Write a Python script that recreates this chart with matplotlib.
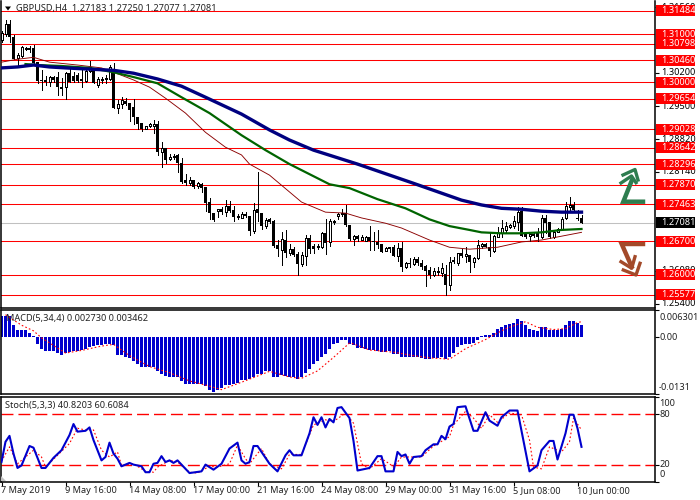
import numpy as np
import matplotlib
matplotlib.use("Agg")
import matplotlib.pyplot as plt
from matplotlib.lines import Line2D
from matplotlib.patches import Rectangle, Polygon
from matplotlib.transforms import blended_transform_factory

plt.rcParams["font.family"] = ["Noto Sans", "DejaVu Sans"]

# candles, in 1/10000 of a price unit
opens = [
    13088,13100,13121,13094,13050,13055,13069,13071,13071,13042,
    13005,13005,13000,13011,13011,12990,12990,13019,13013,13015,
    13007,13003,13023,13025,12994,13005,13007,13007,13021,12946,
    12955,12961,12957,12948,12928,12915,12903,12909,12909,12913,
    12855,12863,12840,12844,12849,12832,12797,12790,12797,12784,
    12788,12782,12751,12728,12732,12736,12730,12742,12734,12720,
    12718,12726,12722,12691,12736,12728,12701,12715,12711,12661,
    12651,12672,12645,12653,12643,12622,12639,12676,12659,12657,
    12657,12686,12668,12709,12722,12726,12728,12703,12674,12680,
    12672,12670,12678,12670,12668,12663,12649,12657,12657,12639,
    12655,12616,12624,12622,12632,12624,12618,12609,12599,12605,
    12603,12601,12578,12630,12624,12645,12639,12641,12626,12634,
    12659,12663,12657,12649,12678,12686,12693,12699,12701,12709,
    12732,12686,12680,12684,12686,12678,12718,12709,12678,12688,
    12695,12718,12740,12745,12718,12718,
]
highs = [
    13107,13129,13129,13098,13061,13075,13073,13075,13077,13042,
    13025,13013,13013,13013,13021,13009,13021,13030,13021,13019,
    13025,13025,13044,13030,13011,13011,13015,13036,13040,12963,
    12969,12967,12957,12965,12928,12915,12909,12915,12921,12919,
    12876,12863,12851,12851,12851,12842,12809,12803,12797,12792,
    12790,12782,12759,12728,12736,12740,12755,12753,12742,12726,
    12730,12730,12722,12749,12813,12728,12718,12718,12713,12672,
    12688,12693,12663,12657,12647,12647,12682,12682,12663,12663,
    12688,12715,12715,12713,12728,12736,12745,12703,12682,12682,
    12682,12680,12701,12688,12693,12663,12657,12657,12661,12666,
    12668,12626,12634,12636,12636,12630,12620,12616,12614,12616,
    12624,12620,12636,12636,12645,12653,12657,12641,12636,12672,
    12666,12666,12686,12682,12699,12713,12709,12705,12722,12740,
    12740,12688,12686,12686,12697,12724,12724,12709,12693,12697,
    12720,12751,12761,12751,12734,12725,
]
lows = [
    13084,13096,13084,13048,13036,13052,13067,13063,13038,12998,
    12984,12994,12992,13000,12973,12973,12965,13000,13000,13000,
    12990,13000,13021,12998,12990,12998,12998,13005,12946,12936,
    12946,12953,12919,12913,12903,12899,12903,12907,12894,12849,
    12824,12832,12838,12840,12813,12790,12786,12786,12780,12780,
    12772,12732,12715,12711,12720,12726,12722,12730,12711,12715,
    12718,12720,12682,12686,12711,12695,12697,12707,12657,12639,
    12620,12636,12641,12639,12599,12618,12620,12645,12645,12653,
    12655,12643,12659,12705,12715,12722,12701,12672,12661,12670,
    12672,12670,12651,12651,12655,12647,12649,12647,12639,12628,
    12607,12614,12616,12620,12620,12611,12576,12593,12597,12599,
    12597,12557,12568,12624,12620,12636,12626,12605,12616,12632,
    12655,12657,12639,12647,12678,12678,12686,12697,12697,12693,
    12680,12676,12670,12678,12670,12676,12686,12676,12676,12688,
    12693,12715,12730,12734,12713,12708,
]
closes = [
    13102,13121,13094,13048,13057,13073,13071,13068,13040,13003,
    13003,13000,13011,13005,12990,12986,13019,13000,13003,13003,
    13003,13023,13032,12998,13007,13007,13009,13032,12946,12955,
    12963,12955,12942,12928,12913,12903,12909,12913,12913,12855,
    12863,12838,12844,12847,12832,12792,12790,12797,12782,12790,
    12780,12749,12728,12713,12736,12730,12742,12732,12720,12722,
    12726,12722,12691,12734,12728,12701,12713,12709,12659,12653,
    12674,12645,12653,12641,12622,12641,12676,12653,12653,12659,
    12686,12666,12711,12711,12726,12728,12703,12674,12680,12674,
    12678,12678,12670,12668,12661,12647,12655,12653,12639,12655,
    12616,12624,12622,12632,12624,12616,12607,12599,12607,12607,
    12614,12578,12626,12626,12645,12639,12643,12626,12634,12661,
    12663,12657,12649,12680,12686,12697,12701,12703,12711,12730,
    12680,12678,12684,12680,12678,12718,12707,12678,12688,12695,
    12715,12742,12745,12734,12715,12708,
]

# moving averages, read at the bars where they bend
navy_idx = [0,4,8,12,16,23,28,33,39,45,51,60,67,72,78,89,103,115,120,125,130,135,140,145]
navy_val = [13030,13032,13036,13032,13030,13027,13025,13019,13007,12992,12969,12934,12901,12880,12859,
            12830,12790,12755,12745,12738,12736,12732,12730,12730]
green_idx = [6,9,15,22,28,33,39,45,52,60,66,72,82,87,94,101,107,112,117,120,125,130,135,140,145]
green_val = [13038,13036,13034,13030,13021,13011,12998,12969,12936,12890,12859,12830,12788,12780,12757,
             12738,12715,12701,12693,12688,12686,12686,12688,12693,12695]
red_idx = [0,4,8,12,19,25,28,33,37,41,46,51,56,60,62,67,70,75,81,86,90,96,100,107,112,117,124,130,135,140,145]
red_val = [13042,13048,13052,13042,13036,13030,13021,13005,12990,12967,12936,12896,12865,12849,12830,
           12807,12786,12751,12730,12728,12718,12707,12697,12672,12657,12653,12657,12668,12672,12680,12688]

levels = [1.31484,1.31000,1.30798,1.30460,1.30000,1.29654,1.29028,1.28642,1.28296,1.27870,1.27463,
          1.26700,1.26000,1.25577]
last_price = 1.27081
price_ticks = [1.31560,1.30200,1.29500,1.28820,1.28140,1.26080,1.25400]

# MACD histogram and signal, in 1/10000
macd = [
    47,48,47,27,16,16,16,10,2,-17,
    -27,-33,-33,-33,-37,-41,-37,-35,-33,-33,
    -30,-27,-23,-21,-19,-18,-17,-16,-19,-41,
    -41,-45,-48,-55,-62,-68,-70,-69,-69,-78,
    -84,-90,-93,-92,-92,-101,-108,-109,-109,-108,
    -109,-113,-121,-126,-121,-117,-111,-111,-107,-105,
    -100,-99,-97,-91,-86,-84,-79,-78,-93,-91,
    -87,-90,-92,-92,-97,-92,-82,-74,-62,-56,
    -47,-39,-27,-17,-14,-8,-6,-17,-19,-25,
    -26,-27,-29,-30,-33,-35,-35,-33,-39,-39,
    -45,-47,-45,-45,-47,-48,-51,-51,-49,-48,
    -47,-51,-47,-37,-22,-19,-16,-16,-13,-6,
    2,4,4,10,19,22,27,30,33,41,
    37,27,19,17,14,22,22,17,16,17,
    19,27,37,37,31,27,
]
signal_idx = [1,5,8,10,16,20,25,28,32,37,42,47,52,55,60,67,72,75,79,83,87,88,92,98,103,107,112,116,121,
              126,131,134,138,141,144,145]
signal_val = [51,27,14,-2,-37,-31,-21,-17,-43,-68,-82,-101,-113,-121,-104,-79,-92,-95,-78,-47,-14,-16,
              -30,-35,-43,-48,-51,-27,-6,19,35,22,17,19,33,35]

# stochastic
stoch_idx = [0,1,2,3,4,5,7,8,10,11,13,15,17,18,19,21,22,23,25,26,27,28,29,30,32,33,35,36,37,38,39,40,41,
             42,43,44,45,47,50,51,53,55,57,59,60,61,62,63,64,67,69,71,72,73,75,77,78,79,80,81,82,83,84,85,87,
             88,89,92,94,95,96,98,99,100,101,102,103,105,106,108,109,110,111,112,113,114,116,118,119,121,122,
             124,125,127,129,132,134,135,137,138,139,141,142,143,144,145]
stoch_val = [23,47,54,33,16,19,42,40,16,16,28,37,55,68,59,60,64,49,25,29,46,33,27,18,22,20,18,11,11,21,22,30,
             23,25,22,25,20,10,12,20,14,21,39,46,25,21,23,42,42,21,12,31,37,31,31,57,76,67,76,64,74,70,87,88,
             75,48,13,16,30,30,12,12,35,30,32,21,29,30,37,44,44,54,50,65,68,88,89,60,60,82,72,66,76,84,84,12,
             19,37,48,48,26,57,79,79,63,41]
stoch_sig_idx = [0,2,4,5,8,10,11,14,17,19,21,23,25,27,29,30,33,36,38,39,42,44,47,49,52,54,57,59,61,62,65,67,
                 70,72,75,78,81,83,86,88,90,92,95,97,98,100,102,105,108,112,113,116,118,120,122,124,127,130,
                 132,133,135,137,140,142,143,145]
stoch_sig_val = [24,41,21,25,37,29,17,31,45,63,61,61,37,29,35,19,21,12,11,17,25,23,11,10,18,17,21,43,27,21,39,
                 21,15,32,32,67,73,71,81,69,21,15,27,21,17,29,29,29,42,53,67,83,75,63,79,70,81,79,49,17,15,41,
                 35,47,75,61]
stoch_levels = [80, 20]

time_ticks = [0,16,32,48,64,80,96,112,128,144]
time_labels = ["7 May 2019","9 May 16:00","14 May 08:00","17 May 00:00","21 May 16:00","24 May 08:00",
               "29 May 00:00","31 May 16:00","5 Jun 08:00","10 Jun 00:00"]

W, H = 700, 500
FS = 6.6
NAVY, GREEN, DRED, BLUE = "#000080", "#006400", "#8b0000", "#0000cd"
ARROW_UP, ARROW_DOWN = "#2e7d4f", "#a34a2a"


def panel(top, bottom):
    return fig.add_axes([0.5 / W, 1 - bottom / H, 654 / W, (bottom - top) / H])


def setup(ax):
    ax.set_xlim(-0.25, 163.25)
    ax.set_xticks([])
    ax.yaxis.tick_right()
    ax.tick_params(axis="y", length=3, width=0.8, labelright=False)
    for s in ax.spines.values():
        s.set_linewidth(1.1)


fig = plt.figure(figsize=(W / 100, H / 100), dpi=100, facecolor="white")
ax = panel(0.5, 307.5)
ax_macd = panel(309.5, 394)
ax_st = panel(397, 481.5)
for a in (ax, ax_macd, ax_st):
    setup(a)
ax.spines["top"].set_visible(False)

# overlay in pixels for labels and the two hand-drawn arrows
ov = fig.add_axes([0, 0, 1, 1], facecolor="none", zorder=10)
ov.set_xlim(0, W)
ov.set_ylim(H, 0)
ov.axis("off")

# price panel
x = np.arange(len(opens))
o = np.array(opens) / 10000
h = np.array(highs) / 10000
l = np.array(lows) / 10000
c = np.array(closes) / 10000
ax.set_ylim(1.25317, 1.31702)
for lv in levels:
    ax.axhline(lv, color="#ff0000", lw=0.75, zorder=1)
ax.axhline(last_price, color="#c0c0c0", lw=0.75, zorder=1)
ax.vlines(x, l, h, color="black", lw=0.72, zorder=2, antialiased=False)
up = c >= o
ax.bar(x[up], (c - o)[up], bottom=o[up], width=0.5, facecolor="white", edgecolor="black", lw=0.72,
       zorder=3, antialiased=False)
ax.bar(x[~up], (o - c)[~up], bottom=c[~up], width=0.75, color="black", lw=0, zorder=3, antialiased=False)
ax.plot(red_idx, np.array(red_val) / 10000, color=DRED, lw=0.65, zorder=4)
ax.plot(green_idx, np.array(green_val) / 10000, color=GREEN, lw=1.6, zorder=5)
ax.plot(navy_idx, np.array(navy_val) / 10000, color=NAVY, lw=2.4, zorder=6)
ax.set_yticks(price_ticks)

# price labels sit in the overlay, x in pixels, y in price
tr = blended_transform_factory(ov.transData, ax.transData)
box_h = 11 / 4808
for t in price_ticks:
    ov.text(661, t, f"{t:.5f}", transform=tr, ha="left", va="center", fontsize=FS, color="black", zorder=1)
for lv in levels:
    ov.add_patch(Rectangle((656, lv - box_h / 2), 39, box_h, transform=tr, color="#ff0000", lw=0, zorder=2))
    ov.text(661, lv, f"{lv:.5f}", transform=tr, ha="left", va="center", fontsize=FS, color="white", zorder=3)
ov.add_patch(Rectangle((656, last_price - box_h / 2), 39, box_h, transform=tr, color="black", lw=0, zorder=2))
ov.text(661, last_price, f"{last_price:.5f}", transform=tr, ha="left", va="center", fontsize=FS, color="white", zorder=3)

ov.add_patch(Polygon([[5, 6.5], [11, 6.5], [8, 10.5]], color="black", lw=0))
ov.text(16, 8, "GBPUSD,H4  1.27183 1.27250 1.27077 1.27081", ha="left", va="center", fontsize=FS, color="#222222")

# arrows
ov.add_line(Line2D([643, 623.3, 632], [201.7, 201.7, 180], color=ARROW_UP, lw=3.2, solid_joinstyle="miter"))
ov.add_line(Line2D([623, 635, 638], [175, 169.5, 180], color=ARROW_UP, lw=2.4))
ov.add_line(Line2D([621, 631.5, 636], [183, 176, 182.7], color=ARROW_UP, lw=2.4))
ov.add_line(Line2D([643, 621.7, 631.7], [244, 244, 266.7], color=ARROW_DOWN, lw=3.2, solid_joinstyle="miter"))
ov.add_line(Line2D([621, 631.7, 635], [261.7, 268.3, 256.7], color=ARROW_DOWN, lw=2.4))
ov.add_line(Line2D([623.3, 636, 640], [270, 275, 263.3], color=ARROW_DOWN, lw=2.4))

# MACD panel
ax_macd.set_ylim(-0.0131, 0.0063)
ax_macd.bar(x, np.array(macd) / 10000, width=0.75, color=BLUE, lw=0, zorder=2, antialiased=False)
ax_macd.plot(signal_idx, np.array(signal_val) / 10000, color="#ff0000", lw=0.8, ls=(0, (1.5, 2)), zorder=3)
ax_macd.set_yticks([0.0063, 0, -0.0131])
ov.text(6, 318, "MACD(5,34,4) 0.002730 0.003462", ha="left", va="center", fontsize=FS, color="#222222")
ov.text(659, 317, "0.006301", ha="left", va="center", fontsize=FS, color="#222222")
ov.text(659, 337, "0.00", ha="left", va="center", fontsize=FS, color="#222222")
ov.text(659, 388, "-0.0131", ha="left", va="center", fontsize=FS, color="#222222")

# stochastic panel
ax_st.set_ylim(0, 100)
for lv in stoch_levels:
    ax_st.axhline(lv, color="#ff0000", lw=1.0, ls=(0, (8.6, 3.6)), zorder=1)
ax_st.plot(stoch_sig_idx, stoch_sig_val, color="#ff0000", lw=0.8, ls=(0, (1.5, 2)), zorder=2)
ax_st.plot(stoch_idx, stoch_val, color=BLUE, lw=1.5, zorder=3)
ax_st.set_yticks([100, 80, 20, 0])
ov.text(5, 405.5, "Stoch(5,3,3) 40.8203 60.6084", ha="left", va="center", fontsize=FS, color="#222222")
for lab, yp in [("100", 403.5), ("80", 414.5), ("20", 464.5), ("0", 474.5)]:
    ov.text(659, yp, lab, ha="left", va="center", fontsize=FS, color="#222222")
ov.add_patch(Polygon([[0.5, 476], [0.5, 481], [6, 481]], color="#c0c0c0", lw=0))

# time axis
ax_st.set_xticks(time_ticks)
ax_st.tick_params(axis="x", length=3, width=0.8, labelbottom=False)
for tk, lab in zip(time_ticks, time_labels):
    ov.text(tk * 4 + 1, 490.5, lab, ha="left", va="center", fontsize=FS, color="#222222")

fig.savefig("out.png", dpi=100)
